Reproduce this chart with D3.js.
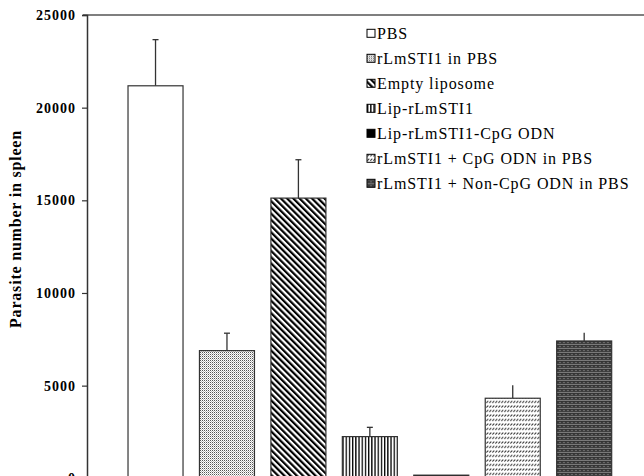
<!DOCTYPE html>
<html>
<head>
	<script type="text/javascript" src="https://cdn.jsdelivr.net/npm/d3@7/dist/d3.min.js"></script>
	<style type="text/css">
		body { margin: 0; background: #fff; }
	</style>
</head>
<body>
<script type="text/javascript">

var groups = ["PBS", "rLmSTI1 in PBS", "Empty liposome", "Lip-rLmSTI1",
	"Lip-rLmSTI1-CpG ODN", "rLmSTI1 + CpG ODN in PBS", "rLmSTI1 + Non-CpG ODN in PBS"];
var means = [21180, 6890, 15120, 2250, 170, 4320, 7410];
var errors = [2490, 940, 2070, 500, 0, 700, 450];
var yTicks = [0, 5000, 10000, 15000, 20000, 25000];
var fills = ["#fff", "url(#dots)", "url(#diag)", "url(#vert)", "#000", "url(#dash)", "url(#weave)"];

var width = 644,
	height = 476,
	axisX = 87,
	serif = "'Liberation Serif'";

var svg = d3.select("body").append("svg")
	.attr("width", width)
	.attr("height", height);

var defs = svg.append("defs");

var dots = defs.append("pattern").attr("id", "dots")
	.attr("patternUnits", "userSpaceOnUse").attr("width", 2).attr("height", 2);
dots.append("rect").attr("width", 2).attr("height", 2).attr("fill", "#fff");
dots.append("rect").attr("width", 1).attr("height", 1).attr("fill", "#555");
dots.append("rect").attr("x", 1).attr("y", 1).attr("width", 1).attr("height", 1).attr("fill", "#bbb");

var diag = defs.append("pattern").attr("id", "diag")
	.attr("patternUnits", "userSpaceOnUse").attr("width", 4.4).attr("height", 4.4)
	.attr("patternTransform", "rotate(-45)");
diag.append("rect").attr("width", 4.4).attr("height", 4.4).attr("fill", "#fff");
diag.append("rect").attr("width", 2.2).attr("height", 4.4).attr("fill", "#000");

var vert = defs.append("pattern").attr("id", "vert")
	.attr("patternUnits", "userSpaceOnUse").attr("width", 3.2).attr("height", 4);
vert.append("rect").attr("width", 3.2).attr("height", 4).attr("fill", "#fff");
vert.append("rect").attr("width", 1.3).attr("height", 4).attr("fill", "#000");

var dash = defs.append("pattern").attr("id", "dash")
	.attr("patternUnits", "userSpaceOnUse").attr("width", 3).attr("height", 4.5);
dash.append("rect").attr("width", 3).attr("height", 4.5).attr("fill", "#fff");
dash.append("path").attr("d", "M0.3,2.4 L2.3,0.6").attr("stroke", "#222").attr("stroke-width", 1.1);

var weave = defs.append("pattern").attr("id", "weave")
	.attr("patternUnits", "userSpaceOnUse").attr("width", 4).attr("height", 4);
weave.append("rect").attr("width", 4).attr("height", 4).attr("fill", "#fff");
weave.append("path").attr("d", "M0,2 L1,0.5 L2,2 L3,0.5 L4,2 M0,4 L1,2.5 L2,4 L3,2.5 L4,4")
	.attr("stroke", "#333").attr("stroke-width", 1.1).attr("fill", "none");

var y = d3.scaleLinear().domain([0, 25000]).range([478.3, 15]);

var x = d3.scaleBand().domain(groups)
	.range([119.8, 619.9])
	.paddingInner(0.23)
	.paddingOuter(0.115);

// frame: top line and y axis
svg.append("line")
	.attr("x1", axisX - 4).attr("x2", width).attr("y1", y(25000)).attr("y2", y(25000))
	.attr("stroke", "#555").attr("stroke-width", 1.5);

var yAxis = svg.append("g")
	.attr("transform", "translate(" + axisX + ",0)")
	.call(d3.axisLeft(y).tickValues(yTicks).tickSize(5).tickPadding(6).tickFormat(d3.format("d")));
yAxis.select(".domain").attr("stroke", "#333").attr("stroke-width", 1.5);
yAxis.selectAll(".tick line").attr("stroke", "#333").attr("stroke-width", 1.2);
yAxis.selectAll(".tick text")
	.attr("fill", "#000")
	.style("font-family", serif)
	.style("font-size", "14px")
	.style("letter-spacing", "1px")
	.style("font-weight", "bold");

svg.append("text")
	.attr("transform", "translate(21,229) rotate(-90)")
	.attr("text-anchor", "middle")
	.style("font-family", serif)
	.style("font-size", "16px")
	.style("letter-spacing", "0.8px")
	.style("font-weight", "bold")
	.text("Parasite number in spleen");

// error bars (upper half only)
var errG = svg.append("g").selectAll("g")
	.data(groups)
  .enter().append("g");
errG.append("line")
	.attr("x1", function(d) { return x(d) + x.bandwidth() / 2; })
	.attr("x2", function(d) { return x(d) + x.bandwidth() / 2; })
	.attr("y1", function(d, i) { return y(means[i]); })
	.attr("y2", function(d, i) { return y(means[i] + errors[i]); })
	.attr("stroke", "#333").attr("stroke-width", 1.3);
errG.filter(function(d, i) { return errors[i] > 0; }).append("line")
	.attr("x1", function(d) { return x(d) + x.bandwidth() / 2 - 3; })
	.attr("x2", function(d) { return x(d) + x.bandwidth() / 2 + 3; })
	.attr("y1", function(d, i) { return y(means[i] + errors[i]); })
	.attr("y2", function(d, i) { return y(means[i] + errors[i]); })
	.attr("stroke", "#333").attr("stroke-width", 1.3);

svg.append("g").selectAll("rect")
	.data(groups)
  .enter().append("rect")
	.attr("x", function(d) { return x(d); })
	.attr("y", function(d, i) { return y(means[i]); })
	.attr("width", x.bandwidth())
	.attr("height", function(d, i) { return y(0) - y(means[i]); })
	.attr("fill", function(d, i) { return fills[i]; })
	.attr("stroke", "#333")
	.attr("stroke-width", 1.2);

// legend
var legend = svg.append("g").selectAll("g")
	.data(groups)
  .enter().append("g")
	.attr("transform", function(d, i) { return "translate(367," + (33.3 + i * 25) + ")"; });
legend.append("rect")
	.attr("x", 0).attr("y", -4).attr("width", 8).attr("height", 8)
	.attr("fill", function(d, i) { return fills[i]; })
	.attr("stroke", "#000").attr("stroke-width", 1);
legend.append("text")
	.attr("x", 10).attr("y", 5.5)
	.style("font-family", serif)
	.style("font-size", "16px")
	.style("letter-spacing", "0.9px")
	.text(function(d) { return d; });

</script>
</body>
</html>
